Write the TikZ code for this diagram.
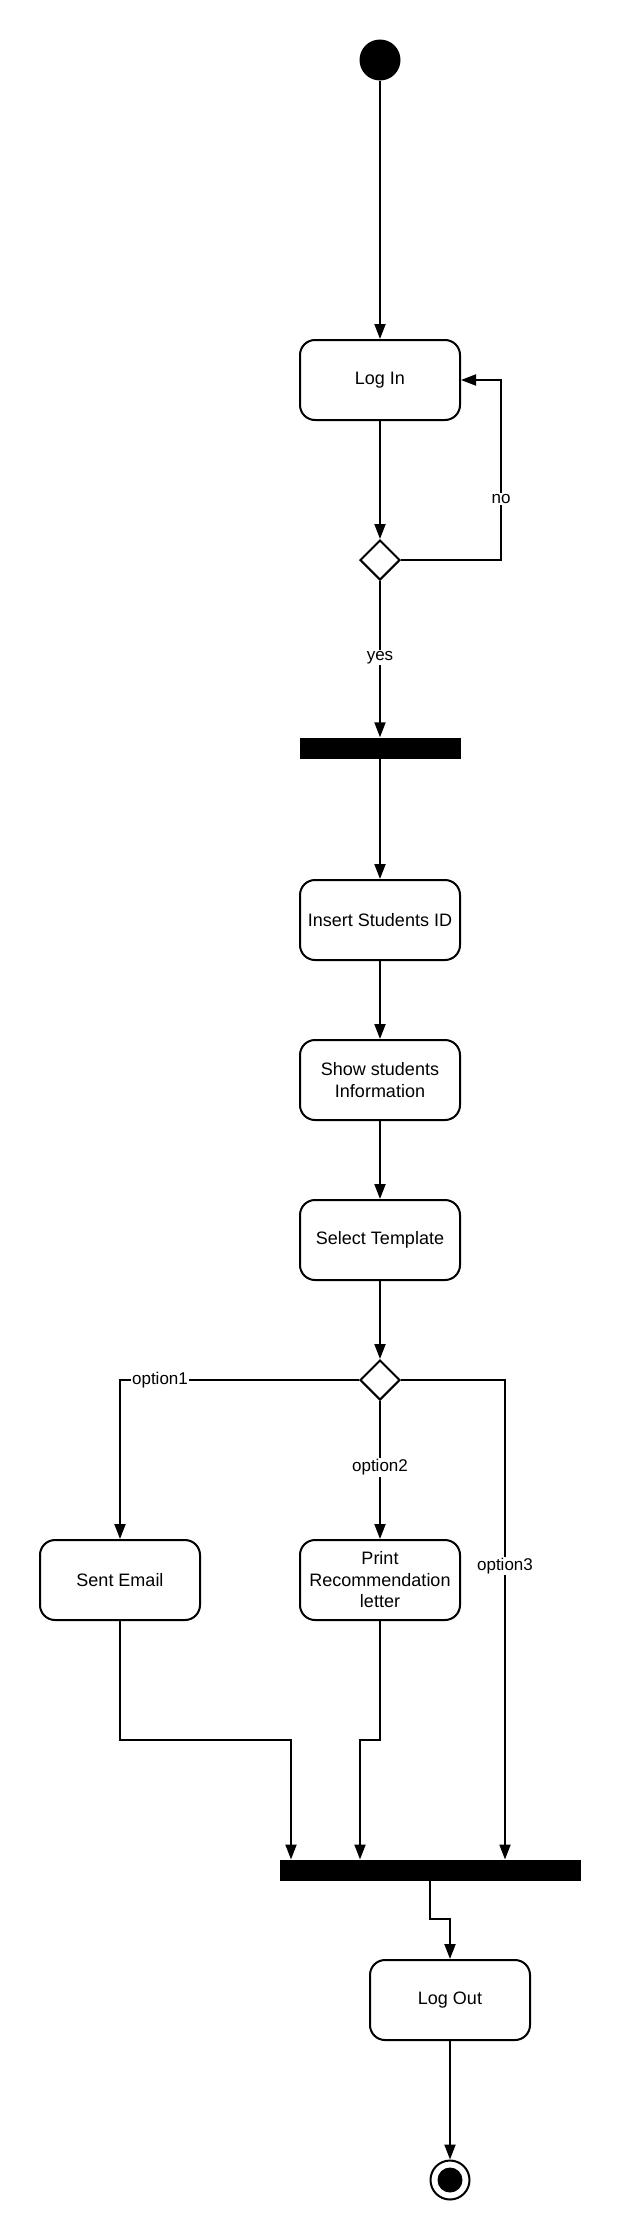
\documentclass[tikz,border=0pt]{standalone}
\usepackage{fontspec}
\setmainfont{Liberation Sans}
\usetikzlibrary{shapes.geometric,arrows.meta}
\begin{document}
\begin{tikzpicture}[x=1pt,y=-1pt,
  every node/.style={font=\fontsize{18}{21.5}\selectfont},
  act/.style={draw, line width=2pt, rounded corners=15pt, minimum width=160pt, minimum height=80pt, align=center, inner sep=2pt},
  bar/.style={fill=black, draw=none, inner sep=0pt, minimum height=21pt},
  dec/.style={diamond, draw, line width=2pt, fill=white, inner sep=0pt, minimum width=40pt, minimum height=40pt},
  arr/.style={line width=2pt, -{Triangle[length=15pt,width=11pt]}},
  ln/.style={line width=2pt},
  lbl/.style={fill=white, inner sep=1.5pt, font=\fontsize{17}{20}\selectfont}
]
\useasboundingbox (0,0) rectangle (620,2240);
\node[circle, fill=black, inner sep=0pt, minimum size=41pt] (start) at (380,60) {};
\node[act] (login) at (380,380) {Log In};
\node[dec] (d1) at (380,560) {};
\node[bar, minimum width=161pt] (fork) at (380,748) {};
\node[act] (insert) at (380,920) {Insert Students ID};
\node[act] (show) at (380,1080) {Show students\\Information};
\node[act] (select) at (380,1240) {Select Template};
\node[dec] (d2) at (380,1380) {};
\node[act] (email) at (120,1580) {Sent Email};
\node[act] (print) at (380,1580) {Print\\Recommendation\\letter};
\node[bar, minimum width=301pt] (join) at (430,1870) {};
\node[act] (logout) at (450,2000) {Log Out};
\node[circle, draw, line width=2pt, fill=white, inner sep=0pt, minimum size=39pt] (end) at (450,2180) {};
\node[circle, fill=black, inner sep=0pt, minimum size=25pt] (endin) at (end.center) {};

\coordinate (c1) at (501,560);
\coordinate (c2) at (501,380);
\coordinate (o3a) at (505,1380);
\coordinate (o3b) at (505,1859.5);
\coordinate (e1) at (120,1740);
\coordinate (e2) at (291,1740);
\coordinate (e3) at (291,1859.5);
\coordinate (p1) at (380,1740);
\coordinate (p2) at (360,1740);
\coordinate (p3) at (360,1859.5);
\coordinate (j1) at (430,1919);
\coordinate (j2) at (450,1919);

\draw[arr] (start) -- (login.north);
\draw[arr] (login.south) -- (d1.north);
\draw[arr] (d1.east) -- (c1) -- node[lbl, pos=0.34] (lno) {no} (c2) -- (login.east);
\draw[arr] (d1.south) -- node[lbl, pos=0.49] (lyes) {yes} (fork.north);
\draw[arr] (fork.south) -- (insert.north);
\draw[arr] (insert.south) -- (show.north);
\draw[arr] (show.south) -- (select.north);
\draw[arr] (select.south) -- (d2.north);
\draw[arr] (d2.west) -| (email.north);
\node[lbl] (lo1) at (160,1380) {option1};
\draw[arr] (d2.south) -- node[lbl, pos=0.48] (lo2) {option2} (print.north);
\draw[arr] (d2.east) -- (o3a) -- node[lbl, pos=0.388] (lo3) {option3} (o3b);
\draw[arr] (email.south) -- (e1) -- (e2) -- (e3);
\draw[arr] (print.south) -- (p1) -- (p2) -- (p3);
\draw[arr] (join.south) -- (j1) -- (j2) -- (logout.north);
\draw[arr] (logout.south) -- (end.north);
\end{tikzpicture}
\end{document}
